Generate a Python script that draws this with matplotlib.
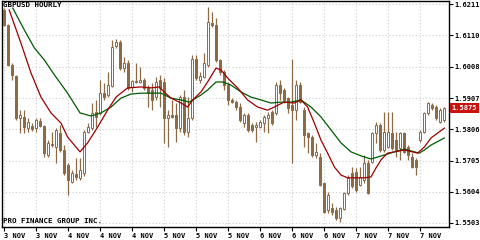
import matplotlib
matplotlib.use("Agg")
import matplotlib.pyplot as plt
import matplotlib.transforms as mtransforms

# GBPUSD hourly candles
opens = [1.6192, 1.6143, 1.6014, 1.5978, 1.5841, 1.5847, 1.5809, 1.5817, 1.5809, 1.5834,
         1.5817, 1.5723, 1.5758, 1.5750, 1.5793, 1.5739, 1.5691, 1.5637, 1.5661, 1.5647,
         1.5664, 1.5798, 1.5809, 1.5863, 1.5858, 1.5922, 1.5917, 1.5946, 1.6075, 1.6087,
         1.6003, 1.6019, 1.5942, 1.5963, 1.5960, 1.5965, 1.5938, 1.5933, 1.5911, 1.5965,
         1.5960, 1.5841, 1.5852, 1.5852, 1.5809, 1.5911, 1.5798, 1.5841, 1.6035, 1.5967,
         1.5976, 1.6014, 1.6151, 1.6143, 1.6030, 1.5992, 1.5949, 1.5901, 1.5895, 1.5879,
         1.5825, 1.5852, 1.5820, 1.5812, 1.5814, 1.5827, 1.5841, 1.5863, 1.5858, 1.5949,
         1.5933, 1.5906, 1.5884, 1.5868, 1.5949, 1.5868, 1.5793, 1.5782, 1.5723, 1.5718,
         1.5631, 1.5545, 1.5550, 1.5545, 1.5518, 1.5547, 1.5599, 1.5664, 1.5669, 1.5626,
         1.5642, 1.5696, 1.5701, 1.5793, 1.5820, 1.5739, 1.5750, 1.5793, 1.5771, 1.5744,
         1.5793, 1.5750, 1.5718, 1.5707, 1.5771, 1.5798, 1.5858, 1.5884, 1.5879, 1.5831,
         1.5836]
highs = [1.6197, 1.6146, 1.6019, 1.5982, 1.5868, 1.5868, 1.5841, 1.5825, 1.5841, 1.5841,
         1.5820, 1.5771, 1.5798, 1.5809, 1.5820, 1.5755, 1.5696, 1.5674, 1.5712, 1.5712,
         1.5804, 1.5825, 1.5890, 1.5901, 1.5965, 1.5955, 1.5992, 1.6095, 1.6097, 1.6095,
         1.6041, 1.6030, 1.5967, 1.6021, 1.6008, 1.5971, 1.5949, 1.5955, 1.5976, 1.5982,
         1.5971, 1.5868, 1.5901, 1.5890, 1.5917, 1.5933, 1.5911, 1.6046, 1.6046, 1.5992,
         1.6052, 1.6202, 1.6186, 1.6165, 1.6035, 1.5998, 1.5960, 1.5906, 1.5901, 1.5890,
         1.5858, 1.5858, 1.5825, 1.5831, 1.5836, 1.5852, 1.5863, 1.5868, 1.5960, 1.5965,
         1.5938, 1.5911, 1.6035, 1.5965, 1.5960, 1.5879, 1.5798, 1.5787, 1.5761, 1.5728,
         1.5637, 1.5604, 1.5567, 1.5556, 1.5556, 1.5604, 1.5658, 1.5685, 1.5680, 1.5685,
         1.5723, 1.5707, 1.5798, 1.5831, 1.5825, 1.5863, 1.5863, 1.5863, 1.5798, 1.5798,
         1.5798, 1.5755, 1.5728, 1.5712, 1.5804, 1.5863, 1.5895, 1.5890, 1.5884, 1.5874,
         1.5879]
lows = [1.6140, 1.6010, 1.5965, 1.5836, 1.5793, 1.5793, 1.5798, 1.5802, 1.5798, 1.5814,
        1.5718, 1.5718, 1.5750, 1.5696, 1.5734, 1.5658, 1.5594, 1.5631, 1.5642, 1.5642,
        1.5655, 1.5793, 1.5804, 1.5814, 1.5852, 1.5901, 1.5911, 1.5944, 1.6068, 1.5998,
        1.5992, 1.5933, 1.5928, 1.5955, 1.5955, 1.5933, 1.5879, 1.5868, 1.5901, 1.5879,
        1.5761, 1.5750, 1.5841, 1.5766, 1.5798, 1.5787, 1.5782, 1.5836, 1.5965, 1.5955,
        1.5971, 1.6008, 1.6138, 1.6025, 1.5982, 1.5933, 1.5884, 1.5890, 1.5868, 1.5831,
        1.5814, 1.5798, 1.5798, 1.5766, 1.5809, 1.5798, 1.5793, 1.5820, 1.5852, 1.5901,
        1.5890, 1.5858, 1.5696, 1.5836, 1.5890, 1.5750, 1.5728, 1.5718, 1.5712, 1.5621,
        1.5534, 1.5534, 1.5529, 1.5513, 1.5507, 1.5545, 1.5594, 1.5615, 1.5604, 1.5621,
        1.5631, 1.5597, 1.5696, 1.5761, 1.5734, 1.5734, 1.5744, 1.5739, 1.5718, 1.5707,
        1.5728, 1.5707, 1.5680, 1.5658, 1.5766, 1.5793, 1.5852, 1.5868, 1.5836, 1.5825,
        1.5831]
closes = [1.6143, 1.6014, 1.5982, 1.5841, 1.5852, 1.5814, 1.5831, 1.5806, 1.5836, 1.5817,
          1.5728, 1.5761, 1.5754, 1.5804, 1.5739, 1.5664, 1.5642, 1.5664, 1.5651, 1.5674,
          1.5798, 1.5814, 1.5858, 1.5847, 1.5922, 1.5911, 1.5949, 1.6073, 1.6087, 1.6003,
          1.6019, 1.5938, 1.5963, 1.5959, 1.5965, 1.5938, 1.5924, 1.5901, 1.5960, 1.5938,
          1.5841, 1.5852, 1.5847, 1.5809, 1.5911, 1.5798, 1.5841, 1.6035, 1.5971, 1.5980,
          1.6019, 1.6154, 1.6143, 1.6030, 1.5992, 1.5949, 1.5901, 1.5895, 1.5879, 1.5836,
          1.5852, 1.5804, 1.5804, 1.5820, 1.5831, 1.5847, 1.5852, 1.5825, 1.5949, 1.5922,
          1.5901, 1.5874, 1.5868, 1.5949, 1.5895, 1.5787, 1.5782, 1.5723, 1.5734, 1.5626,
          1.5540, 1.5594, 1.5540, 1.5518, 1.5550, 1.5599, 1.5647, 1.5621, 1.5610, 1.5653,
          1.5696, 1.5599, 1.5793, 1.5820, 1.5739, 1.5798, 1.5798, 1.5744, 1.5739, 1.5793,
          1.5734, 1.5723, 1.5685, 1.5685, 1.5798, 1.5858, 1.5890, 1.5874, 1.5841, 1.5868,
          1.5875]

# moving averages, sampled at bar positions
fast_pos = [1.3, 4.25, 6.75, 9.25, 11.75, 14.25, 15.9, 19, 20.9, 23.4, 25.9, 28, 30.9,
            34.25, 36.75, 38.8, 40, 41.75, 44.25, 45.9, 47.2, 49.25, 50.9, 53, 54.25,
            55.9, 58.4, 60.9, 63.4, 65.9, 67.6, 70, 72.6, 74.25, 75.9, 77.6, 79.25,
            80.9, 82.6, 84.25, 85.9, 90.1, 91.75, 93, 94.25, 95.9, 100.1, 103.4, 105.1,
            106.75, 110.1]
fast_ma = [1.6192, 1.6084, 1.5988, 1.5910, 1.5859, 1.5826, 1.5781, 1.5733, 1.5762, 1.5813,
           1.5868, 1.5910, 1.5940, 1.5943, 1.5940, 1.5943, 1.5927, 1.5907, 1.5891, 1.5878,
           1.5901, 1.5927, 1.5959, 1.6004, 1.5998, 1.5972, 1.5940, 1.5901, 1.5878, 1.5868,
           1.5878, 1.5894, 1.5891, 1.5901, 1.5878, 1.5826, 1.5771, 1.5729, 1.5684, 1.5658,
           1.5649, 1.5649, 1.5652, 1.5681, 1.5707, 1.5729, 1.5739, 1.5729, 1.5749, 1.5778,
           1.5810]
slow_pos = [2.2, 5.1, 7.6, 10.1, 12.6, 15.9, 19, 21.75, 24.25, 26.75, 29.25, 31.75, 34.25,
            36.75, 39.25, 41.75, 44.25, 46.3, 49.25, 50.9, 53, 54.7, 56.75, 59.25, 61.75,
            64.25, 66.75, 69.25, 71.75, 74.25, 76.75, 79.25, 81.75, 84.25, 86.75, 89.25,
            91.75, 95.1, 97.6, 100.1, 103.8, 105.1, 106.75, 110.1]
slow_ma = [1.6198, 1.6127, 1.6069, 1.6030, 1.5982, 1.5923, 1.5859, 1.5849, 1.5859, 1.5878,
           1.5907, 1.5920, 1.5923, 1.5923, 1.5923, 1.5907, 1.5901, 1.5894, 1.5917, 1.5933,
           1.5959, 1.5959, 1.5949, 1.5927, 1.5910, 1.5901, 1.5891, 1.5894, 1.5894, 1.5901,
           1.5878, 1.5846, 1.5804, 1.5762, 1.5733, 1.5720, 1.5710, 1.5723, 1.5733, 1.5742,
           1.5729, 1.5739, 1.5755, 1.5778]

price_ticks = [1.5503, 1.5604, 1.5705, 1.5806, 1.5907, 1.6008, 1.6110, 1.6211]
date_labels = ["3 NOV", "3 NOV", "4 NOV", "4 NOV", "4 NOV", "5 NOV", "5 NOV",
               "5 NOV", "6 NOV", "6 NOV", "6 NOV", "7 NOV", "7 NOV", "7 NOV"]
last_price = 1.5875

BROWN = "#8c6a45"
FONT = dict(family="DejaVu Sans Mono", fontsize=5.4, fontweight="bold")
TICKFONT = dict(family="DejaVu Sans Mono", fontsize=5.0, fontweight="bold")

fig = plt.figure(figsize=(4.81, 2.40), dpi=100)
ax = fig.add_axes([2 / 481, 13 / 240, 447 / 481, 226 / 240])

n = len(closes)
xs = list(range(n))

ax.vlines(xs, lows, highs, color=BROWN, linewidth=0.9, zorder=3)
for i in xs:
    o, c = opens[i], closes[i]
    up = c >= o
    lo = min(o, c)
    h = max(abs(c - o), 0.00025)
    ax.bar(i, h, bottom=lo, width=0.66,
           facecolor="white" if up else BROWN,
           edgecolor=BROWN, linewidth=0.7, zorder=4)

ax.plot(slow_pos, slow_ma, color="#005a00", linewidth=0.9, zorder=5)
ax.plot(fast_pos, fast_ma, color="#9a0000", linewidth=0.9, zorder=5)

ax.set_xlim(-0.5, -0.5 + 447 / 4)
ax.set_ylim(1.5490, 1.6221)

ax.set_xticks(xs[::8])
ax.set_xticklabels(date_labels, ha="left", **TICKFONT)
ax.set_yticks(price_ticks)
ax.set_yticklabels([f"{p:.4f}" for p in price_ticks], **TICKFONT)
ax.yaxis.tick_right()
ax.tick_params(axis="x", length=3, width=0.8, pad=1, color="black")
ax.tick_params(axis="y", length=3, width=0.8, pad=1, color="black")

ax.grid(True, color="#cfcfcf", linestyle=(0, (1, 2)), linewidth=0.8, zorder=0)
ax.set_axisbelow(True)
for s in ax.spines.values():
    s.set_color("black")
    s.set_linewidth(1.0)

ax.text(0.003, 0.995, "GBPUSD HOURLY", transform=ax.transAxes,
        ha="left", va="top", color="black", **FONT)
ax.text(0.003, 0.012, "PRO FINANCE GROUP INC.", transform=ax.transAxes,
        ha="left", va="bottom", color="black", **FONT)

trans = mtransforms.blended_transform_factory(ax.transAxes, ax.transData)
ax.text(1.006, last_price, f"{last_price:.4f}", transform=trans, ha="left",
        va="center", color="white", clip_on=False,
        bbox=dict(boxstyle="square,pad=0.25", facecolor="#cc1111", edgecolor="none"),
        **TICKFONT)

fig.savefig("out.png", dpi=100)
